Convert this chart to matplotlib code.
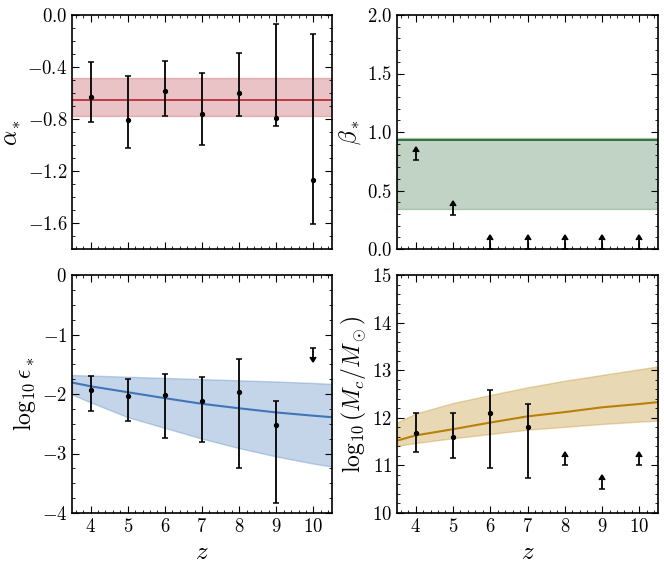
import matplotlib
matplotlib.use("Agg")
import matplotlib.pyplot as plt
import numpy as np
from matplotlib.ticker import MultipleLocator

plt.rcParams['font.family'] = 'serif'
plt.rcParams['font.serif'] = ['cmr10']
plt.rcParams['mathtext.fontset'] = 'cm'
plt.rcParams['axes.formatter.use_mathtext'] = True
plt.rcParams['axes.unicode_minus'] = True

# redshift bins
z = [4, 5, 6, 7, 8, 9, 10]

# alpha_* per bin (value, upper, lower)
alpha_val = [-0.634, -0.804, -0.583, -0.761, -0.600, -0.791, -1.27]
alpha_hi = [-0.359, -0.466, -0.351, -0.448, -0.290, -0.066, -0.150]
alpha_lo = [-0.824, -1.020, -0.774, -0.997, -0.779, -0.855, -1.608]
alpha_fit = -0.654
alpha_band = (-0.774, -0.481)

# beta_* lower limits
beta_lim = [0.757, 0.29, 0.0, 0.0, 0.0, 0.0, 0.0]
beta_fit = 0.93
beta_band = (0.345, 0.945)

# log10 eps_*
eps_z = [4, 5, 6, 7, 8, 9]
eps_val = [-1.94, -2.04, -2.025, -2.126, -1.964, -2.523]
eps_hi = [-1.70, -1.745, -1.656, -1.717, -1.404, -2.126]
eps_lo = [-2.28, -2.46, -2.74, -2.80, -3.25, -3.83]
eps_ulim_z = [10]
eps_ulim = [-1.231]

# log10 Mc
mc_z = [4, 5, 6, 7]
mc_val = [11.685, 11.60, 12.11, 11.80]
mc_hi = [12.11, 12.11, 12.59, 12.29]
mc_lo = [11.29, 11.15, 10.94, 10.73]
mc_lim_z = [8, 9, 10]
mc_lim = [11.0, 10.51, 11.0]

# model curves
zgrid = [3.5, 4, 5, 6, 7, 8, 9, 10, 10.5]
eps_mid = [-1.807, -1.87, -1.97, -2.07, -2.165, -2.24, -2.31, -2.365, -2.39]
eps_up = [-1.68, -1.69, -1.71, -1.73, -1.75, -1.77, -1.79, -1.815, -1.83]
eps_dn = [-2.01, -2.14, -2.39, -2.57, -2.75, -2.91, -3.05, -3.17, -3.22]
mc_mid = [11.52, 11.63, 11.76, 11.90, 12.03, 12.12, 12.22, 12.29, 12.33]
mc_up = [11.90, 12.09, 12.31, 12.48, 12.64, 12.78, 12.90, 13.02, 13.08]
mc_dn = [11.41, 11.47, 11.57, 11.66, 11.75, 11.81, 11.87, 11.92, 11.94]

red = '#bc3a44'
green = '#34703e'
blue = '#3e76b9'
gold = '#b98008'

fig = plt.figure(figsize=(6.64, 5.63), dpi=100)
W, H = 664.0, 563.0
ax1 = fig.add_axes([72 / W, 1 - 249 / H, 260 / W, 234 / H])
ax2 = fig.add_axes([397 / W, 1 - 249 / H, 261 / W, 234 / H])
ax3 = fig.add_axes([72 / W, 1 - 513 / H, 260 / W, 238 / H])
ax4 = fig.add_axes([397 / W, 1 - 513 / H, 261 / W, 238 / H])

eb = dict(color='k', ecolor='k', elinewidth=1.3, capsize=2.5, capthick=1.1)


def yerr(val, hi, lo):
    val = np.array(val)
    return [val - np.array(lo), np.array(hi) - val]


# alpha
ax1.axhspan(alpha_band[0], alpha_band[1], color=red, alpha=0.3, lw=1)
ax1.axhline(alpha_fit, color=red, lw=1.4)
ax1.errorbar(z, alpha_val, yerr=yerr(alpha_val, alpha_hi, alpha_lo), fmt='o', ms=2.8, **eb)
ax1.set_ylim(-1.8, 0)
ax1.yaxis.set_major_locator(MultipleLocator(0.4))
ax1.yaxis.set_minor_locator(MultipleLocator(0.1))
ax1.set_ylabel(r'$\alpha_*$', fontsize=17, labelpad=3)

# beta
ax2.axhspan(beta_band[0], beta_band[1], color=green, alpha=0.3, lw=1)
ax2.axhline(beta_fit, color=green, lw=1.4)
ax2.errorbar(z, beta_lim, yerr=0.075, lolims=True, fmt='none', **eb)
ax2.set_ylim(0, 2)
ax2.yaxis.set_major_locator(MultipleLocator(0.5))
ax2.yaxis.set_minor_locator(MultipleLocator(0.1))
ax2.set_ylabel(r'$\beta_*$', fontsize=17, labelpad=3)

# epsilon
ax3.fill_between(zgrid, eps_dn, eps_up, color=blue, alpha=0.3, lw=1)
ax3.plot(zgrid, eps_mid, color=blue, lw=1.5)
ax3.errorbar(eps_z, eps_val, yerr=yerr(eps_val, eps_hi, eps_lo), fmt='o', ms=2.8, **eb)
ax3.errorbar(eps_ulim_z, eps_ulim, yerr=0.15, uplims=True, fmt='none', **eb)
ax3.set_ylim(-4, 0)
ax3.yaxis.set_major_locator(MultipleLocator(1))
ax3.yaxis.set_minor_locator(MultipleLocator(0.25))
ax3.set_ylabel(r'$\log_{10}\epsilon_*$', fontsize=17, labelpad=3)

# Mc
ax4.fill_between(zgrid, mc_dn, mc_up, color=gold, alpha=0.3, lw=1)
ax4.plot(zgrid, mc_mid, color=gold, lw=1.5)
ax4.errorbar(mc_z, mc_val, yerr=yerr(mc_val, mc_hi, mc_lo), fmt='o', ms=2.8, **eb)
ax4.errorbar(mc_lim_z, mc_lim, yerr=0.18, lolims=True, fmt='none', **eb)
ax4.set_ylim(10, 15)
ax4.yaxis.set_major_locator(MultipleLocator(1))
ax4.yaxis.set_minor_locator(MultipleLocator(0.2))
ax4.set_ylabel(r'$\log_{10}\left(M_c/M_\odot\right)$', fontsize=17, labelpad=3)

for ax in (ax1, ax2, ax3, ax4):
    ax.set_xlim(3.5, 10.5)
    ax.xaxis.set_major_locator(MultipleLocator(1))
    ax.xaxis.set_minor_locator(MultipleLocator(0.2))
    ax.tick_params(which='both', direction='in', top=True, right=True, labelsize=13.5)
    ax.tick_params(which='major', length=5, width=0.8)
    ax.tick_params(which='minor', length=2.5, width=0.6)
    for s in ax.spines.values():
        s.set_linewidth(1.2)

for ax in (ax1, ax2):
    ax.tick_params(labelbottom=False)
for ax in (ax3, ax4):
    ax.set_xlabel(r'$z$', fontsize=18)

fig.savefig('out.png', dpi=100)
